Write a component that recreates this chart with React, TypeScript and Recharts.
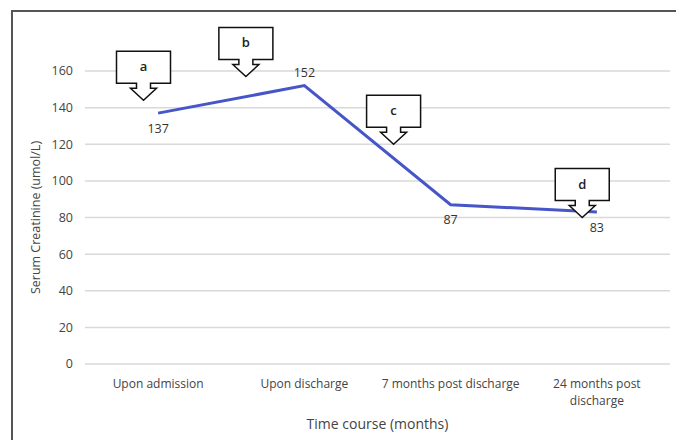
import { LineChart, Line, XAxis, YAxis, CartesianGrid, ReferenceDot, LabelList } from "recharts"

const categories = ["Upon admission", "Upon discharge", "7 months post discharge", "24 months post discharge"]
const creatinine = [137, 152, 87, 83]
const yTicks = [0, 20, 40, 60, 80, 100, 120, 140, 160]

// callout markers: letter, position along the category axis, value the arrow points at
const calloutLetters = ["a", "b", "c", "d"]
const calloutX = [-0.1, 0.6, 1.61, 2.9]
const calloutY = [144, 157, 120, 80]

// where each value label sits relative to its point
const labelSide = ["below", "above", "below", "below"]

const data = creatinine.map((v, i) => ({ x: i, value: v, side: labelSide[i] }))
const callouts = calloutLetters.map((l, i) => ({ letter: l, x: calloutX[i], y: calloutY[i] }))

const FONT = "'Open Sans', 'Noto Sans', sans-serif"
const TEXT = "#444444"

function Callout(props: any) {
    const { cx, cy, letter } = props
    const tx = cx
    const ty = cy
    const d = [
        `M ${tx - 27} ${ty - 49}`,
        `L ${tx + 27} ${ty - 49}`,
        `L ${tx + 27} ${ty - 17}`,
        `L ${tx + 7} ${ty - 17}`,
        `L ${tx + 7} ${ty - 12}`,
        `L ${tx + 13} ${ty - 12}`,
        `L ${tx} ${ty}`,
        `L ${tx - 13} ${ty - 12}`,
        `L ${tx - 7} ${ty - 12}`,
        `L ${tx - 7} ${ty - 17}`,
        `L ${tx - 27} ${ty - 17}`,
        "Z",
    ].join(" ")
    return (
        <g>
            <path d={d} fill="#ffffff" stroke="#111111" strokeWidth={1.5} strokeLinejoin="miter" />
            <text x={tx} y={ty - 34} textAnchor="middle" dominantBaseline="central" fontSize={13} fontWeight={600} fontFamily={FONT} fill="#222">
                {letter}
            </text>
        </g>
    )
}

function ValueLabel(props: any) {
    const { x, y, value, index } = props
    const side = data[index].side
    const dy = side === "above" ? -13 : 15
    return (
        <text x={x} y={y + dy} textAnchor="middle" dominantBaseline="central" fontSize={12.5} fontFamily={FONT} fill="#333">
            {value}
        </text>
    )
}

function CategoryTick(props: any) {
    const { x, y, payload } = props
    const label = categories[payload.value] ?? ""
    // wrap long labels like Excel does
    const words = label.split(" ")
    const lines = label.length > 23 ? [words.slice(0, 3).join(" "), words.slice(3).join(" ")] : [label]
    return (
        <g>
            {lines.map((ln, i) => (
                <text key={i} x={x} y={y + 11 + i * 17} textAnchor="middle" dominantBaseline="central" fontSize={12} fontFamily={FONT} fill={TEXT}>
                    {ln}
                </text>
            ))}
        </g>
    )
}

export default function App() {
    return (
        <div style={{ position: "absolute", left: 0, top: 0, width: 676, height: 440, background: "#fff", fontFamily: FONT }}>
            <div style={{ position: "absolute", left: 11, top: 10, width: 670, height: 440, borderLeft: "2px solid #555", borderTop: "2px solid #555" }} />
            <div style={{ position: "absolute", left: 0, top: 0 }}>
                <LineChart width={676} height={440} data={data} margin={{ top: 71, right: 6, bottom: 0, left: 0 }}>
                    <CartesianGrid vertical={false} stroke="#d9d9d9" strokeWidth={1.5} />
                    <XAxis
                        type="number"
                        dataKey="x"
                        domain={[-0.5, 3.5]}
                        ticks={[0, 1, 2, 3]}
                        axisLine={false}
                        tickLine={false}
                        height={76}
                        tick={<CategoryTick />}
                        label={{ value: "Time course (months)", position: "center", dy: 22, fontSize: 14, fill: TEXT, fontFamily: FONT }}
                    />
                    <YAxis
                        domain={[0, 160]}
                        ticks={yTicks}
                        axisLine={false}
                        tickLine={false}
                        width={85}
                        tickMargin={6}
                        tick={{ fontSize: 12.5, fill: TEXT, fontFamily: FONT }}
                        label={{ value: "Serum Creatinine (umol/L)", angle: -90, position: "center", dx: -7, fontSize: 12.5, fill: TEXT, fontFamily: FONT }}
                    />
                    {callouts.map((c) => (
                        <ReferenceDot key={c.letter} x={c.x} y={c.y} shape={<Callout letter={c.letter} />} />
                    ))}
                    <Line type="linear" dataKey="value" stroke="#4655C8" strokeWidth={3} dot={false} isAnimationActive={false}>
                        <LabelList dataKey="value" content={<ValueLabel />} />
                    </Line>
                </LineChart>
            </div>
        </div>
    )
}
